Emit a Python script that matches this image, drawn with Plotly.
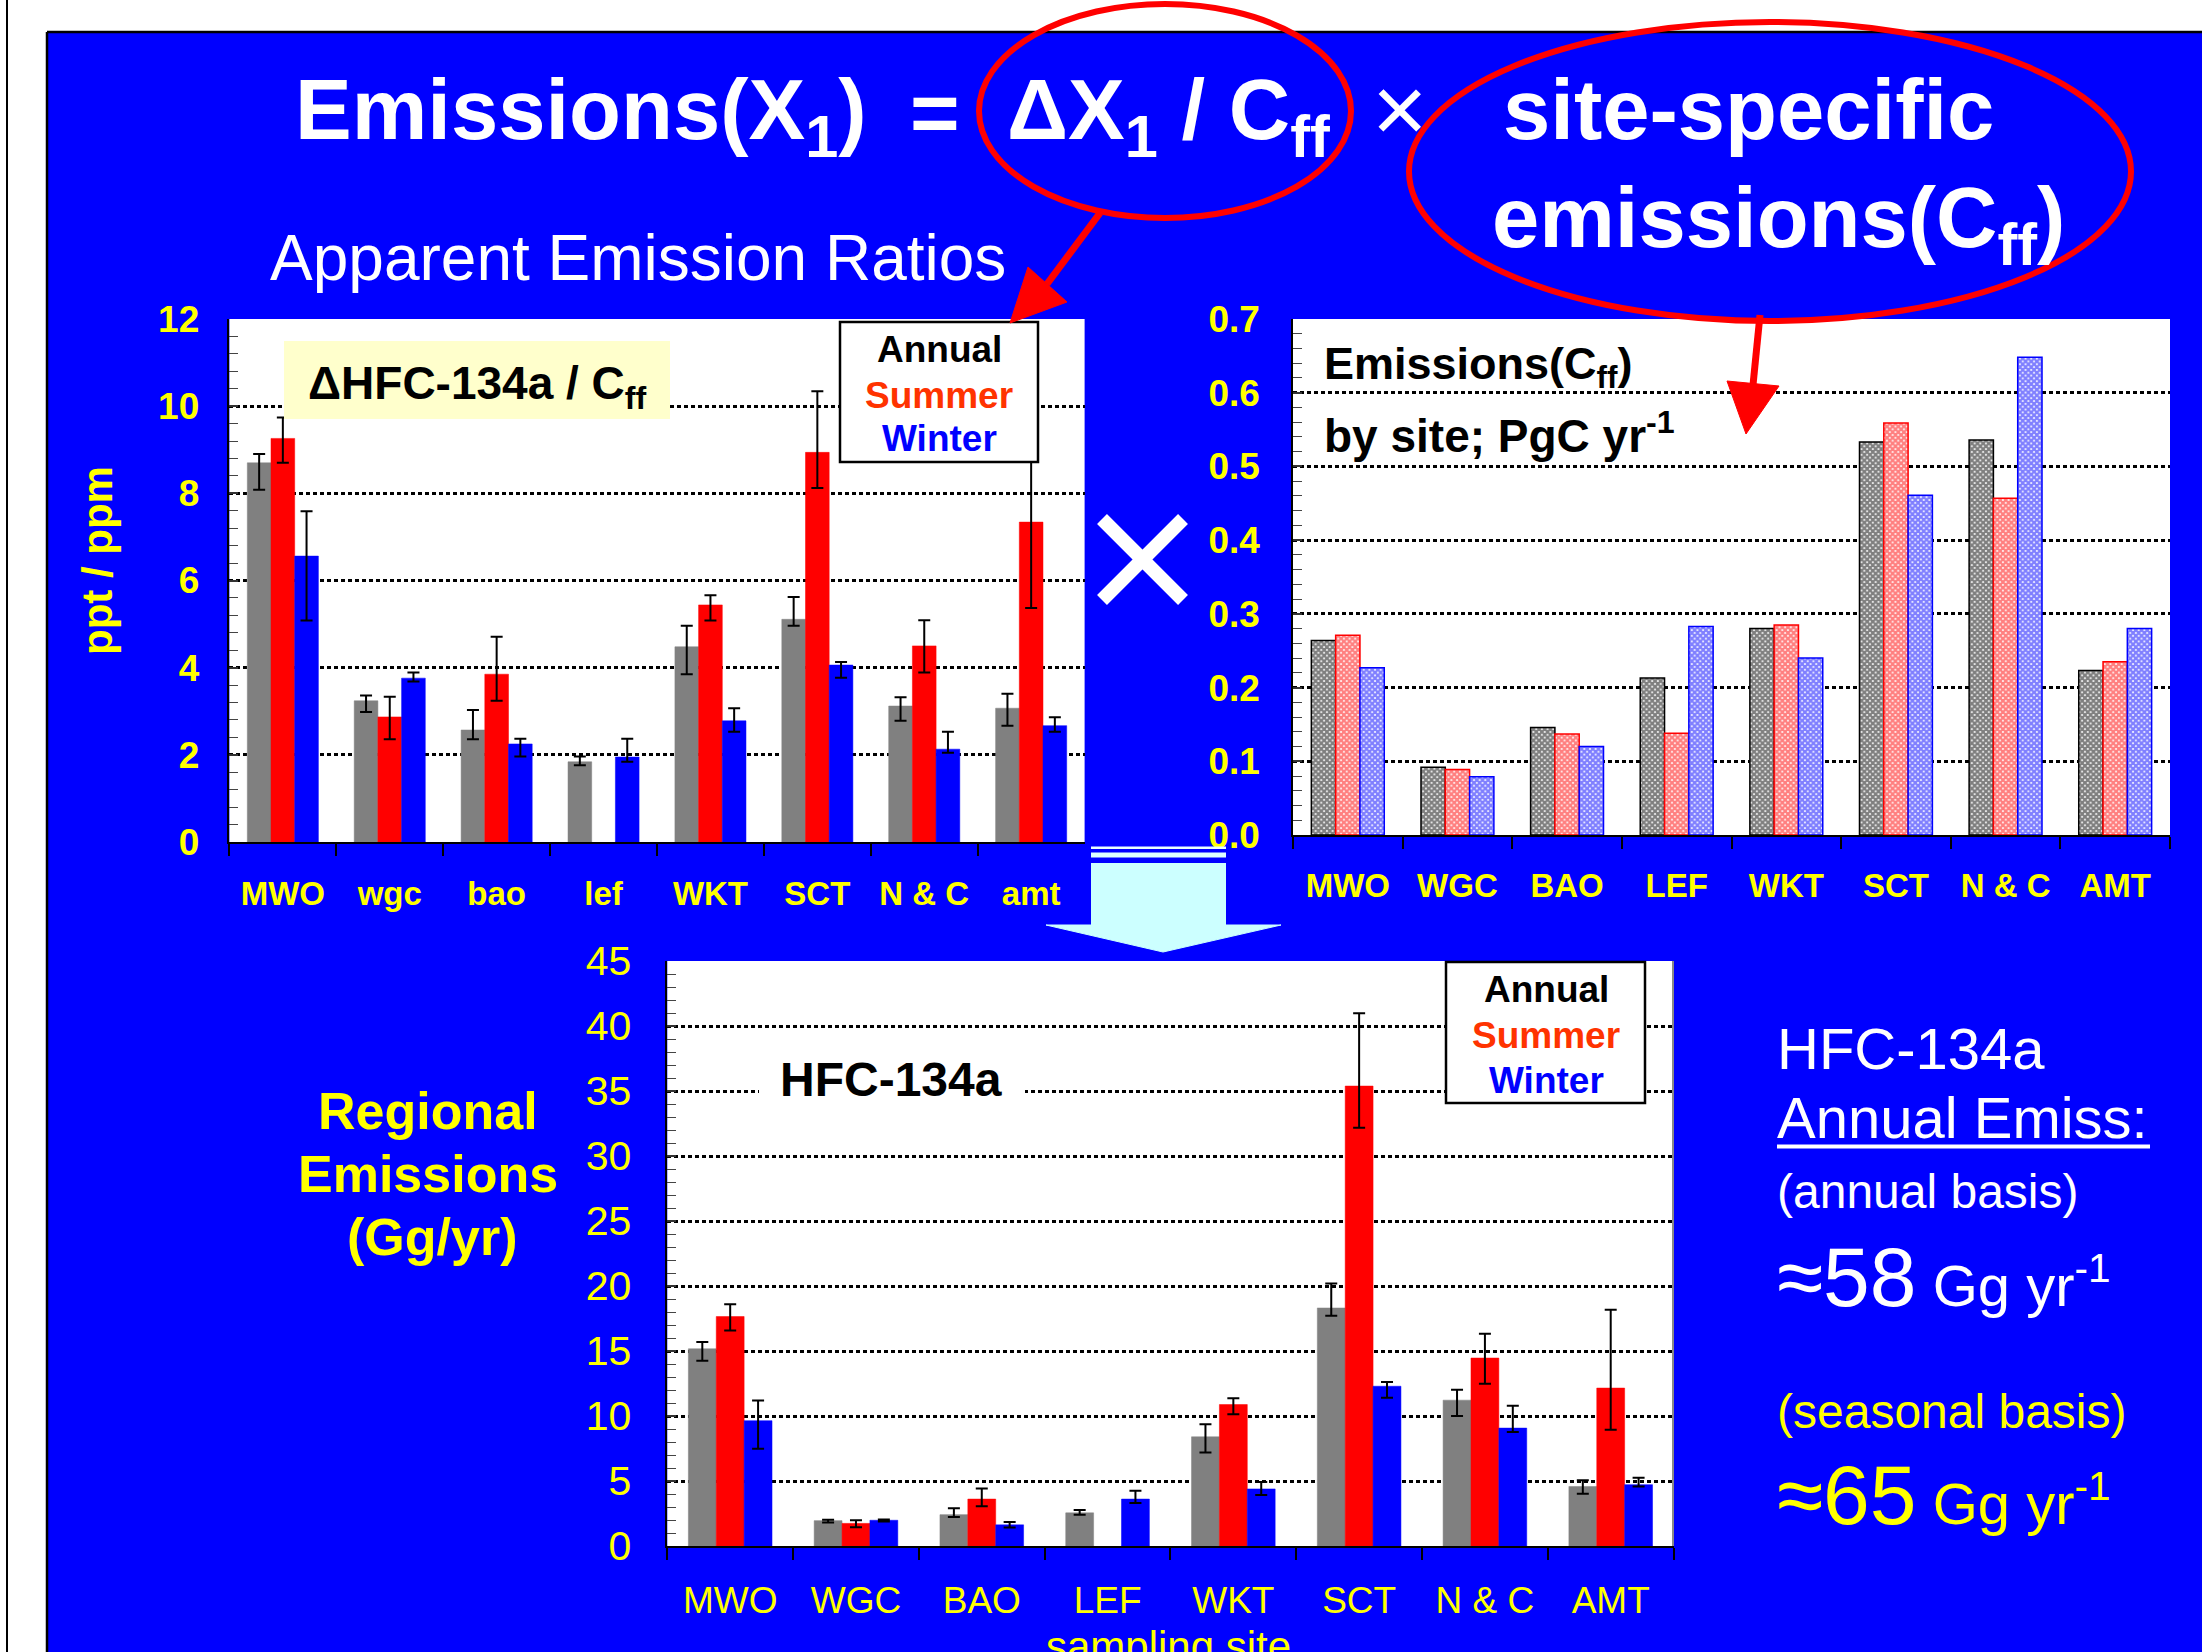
import plotly.graph_objects as go

W, H = 2202, 1652
FONT = "Liberation Sans"
YEL = "#FFFF00"
BLUE = "#0000FF"

# ---------------- data ----------------
ratio_sites = ["MWO", "wgc", "bao", "lef", "WKT", "SCT", "N & C", "amt"]
ratio_annual = [8.70, 3.24, 2.57, 1.84, 4.48, 5.11, 3.12, 3.07]
ratio_annual_up = [0.20, 0.12, 0.46, 0.12, 0.48, 0.51, 0.20, 0.33]
ratio_annual_dn = [0.62, 0.26, 0.21, 0.08, 0.63, 0.15, 0.34, 0.40]
ratio_summer = [9.26, 2.87, 3.85, None, 5.44, 8.94, 4.50, 7.34]
ratio_summer_up = [0.48, 0.46, 0.86, 0, 0.22, 1.40, 0.59, 1.97]
ratio_summer_dn = [0.56, 0.51, 0.61, 0, 0.36, 0.82, 0.61, 1.97]
ratio_winter = [6.56, 3.76, 2.25, 1.95, 2.78, 4.06, 2.13, 2.67]
ratio_winter_up = [1.03, 0.13, 0.12, 0.42, 0.29, 0.07, 0.40, 0.19]
ratio_winter_dn = [1.48, 0.08, 0.29, 0.11, 0.25, 0.29, 0.08, 0.14]

sites = ["MWO", "WGC", "BAO", "LEF", "WKT", "SCT", "N & C", "AMT"]
cff_annual = [0.264, 0.092, 0.146, 0.213, 0.280, 0.533, 0.536, 0.223]
cff_summer = [0.271, 0.089, 0.137, 0.138, 0.285, 0.559, 0.457, 0.235]
cff_winter = [0.227, 0.079, 0.120, 0.283, 0.240, 0.461, 0.648, 0.280]

emis_annual = [15.17, 1.95, 2.41, 2.55, 8.40, 18.31, 11.22, 4.58]
emis_annual_up = [0.53, 0.07, 0.50, 0.21, 0.96, 1.88, 0.80, 0.47]
emis_annual_dn = [0.92, 0.14, 0.18, 0.14, 1.21, 0.60, 1.22, 0.57]
emis_summer = [17.65, 1.74, 3.61, None, 10.88, 35.38, 14.46, 12.15]
emis_summer_up = [0.95, 0.24, 0.82, 0, 0.49, 5.61, 1.87, 6.03]
emis_summer_dn = [1.07, 0.29, 0.56, 0, 0.75, 3.20, 1.98, 3.21]
emis_winter = [9.64, 1.98, 1.63, 3.61, 4.39, 12.29, 9.07, 4.72]
emis_winter_up = [1.56, 0.05, 0.21, 0.64, 0.54, 0.33, 1.71, 0.53]
emis_winter_dn = [2.16, 0.10, 0.21, 0.31, 0.46, 0.88, 0.30, 0.14]

season_names = ["Annual", "Summer", "Winter"]
season_colors = ["#808080", "#FF0000", "#0000FF"]


def px(x):
    return x / W


def py(y):
    return 1 - y / H


fig = go.Figure()


def err(up, dn):
    return dict(type="data", symmetric=False, array=up, arrayminus=dn,
                color="black", thickness=2, width=6)


# chart 1: apparent emission ratios
for name, col, vals, up, dn in zip(
        season_names, season_colors,
        [ratio_annual, ratio_summer, ratio_winter],
        [ratio_annual_up, ratio_summer_up, ratio_winter_up],
        [ratio_annual_dn, ratio_summer_dn, ratio_winter_dn]):
    fig.add_trace(go.Bar(x=ratio_sites, y=vals, name=name,
                         marker=dict(color=col, line=dict(color=col, width=0.5)),
                         error_y=err(up, dn),
                         xaxis="x", yaxis="y", showlegend=False))

# chart 2: Cff emissions by site (patterned)
for name, col, vals in zip(season_names, ["#000000", "#FF0000", "#0000FF"],
                           [cff_annual, cff_summer, cff_winter]):
    fig.add_trace(go.Bar(x=sites, y=vals, name=name,
                         marker=dict(color="white", line=dict(color=col, width=1.5),
                                     pattern=dict(shape="x", fgcolor=col, bgcolor="white",
                                                  size=4, solidity=0.8)),
                         xaxis="x2", yaxis="y2", showlegend=False))

# chart 3: regional emissions
for name, col, vals, up, dn in zip(
        season_names, season_colors,
        [emis_annual, emis_summer, emis_winter],
        [emis_annual_up, emis_summer_up, emis_winter_up],
        [emis_annual_dn, emis_summer_dn, emis_winter_dn]):
    fig.add_trace(go.Bar(x=sites, y=vals, name=name,
                         marker=dict(color=col, line=dict(color=col, width=0.5)),
                         error_y=err(up, dn),
                         xaxis="x3", yaxis="y3", showlegend=False))


def xax(x0, x1, anchor, size, bold, standoff):
    return dict(domain=[px(x0), px(x1)], anchor=anchor, type="category",
                range=[-0.5, 7.5], tickson="boundaries", ticks="outside",
                ticklen=12, tickwidth=1.5, tickcolor="black",
                showline=True, linecolor="black", linewidth=2, showgrid=False,
                automargin=False,
                tickfont=dict(family=FONT, size=size, color=YEL,
                              weight="bold" if bold else "normal"),
                ticklabelstandoff=standoff, fixedrange=True)


def yax(y0, y1, anchor, rng, dtick, minor, size, bold, standoff, fmt=None):
    d = dict(domain=[py(y1), py(y0)], anchor=anchor, range=rng, dtick=dtick,
             ticks="inside", ticklen=9, tickwidth=1.5, tickcolor="#333333",
             showline=True, linecolor="black", linewidth=1.5,
             showgrid=True, gridcolor="black", griddash="4px,3px", gridwidth=2.5,
             zeroline=False, automargin=False,
             tickfont=dict(family=FONT, size=size, color=YEL,
                           weight="bold" if bold else "normal"),
             ticklabelstandoff=standoff, fixedrange=True,
             minor=dict(dtick=minor, ticks="inside", ticklen=9, tickwidth=1.2,
                        tickcolor="#444444", showgrid=False))
    if fmt:
        d["tickformat"] = fmt
    return d


shapes = []
# white page margins around the blue slide (slide colour = paper colour)
shapes.append(dict(type="rect", xref="paper", yref="paper", layer="below",
                   x0=0, x1=1, y0=py(32), y1=1,
                   fillcolor="white", line=dict(width=0)))
shapes.append(dict(type="rect", xref="paper", yref="paper", layer="below",
                   x0=0, x1=px(47), y0=0, y1=1,
                   fillcolor="white", line=dict(width=0)))
shapes.append(dict(type="line", xref="paper", yref="paper", layer="below",
                   x0=px(47), x1=1, y0=py(32), y1=py(32),
                   line=dict(color="black", width=2.5)))
shapes.append(dict(type="line", xref="paper", yref="paper", layer="below",
                   x0=px(47), x1=px(47), y0=py(32), y1=0,
                   line=dict(color="black", width=2.5)))
shapes.append(dict(type="line", xref="paper", yref="paper", layer="below",
                   x0=px(7), x1=px(7), y0=0, y1=1,
                   line=dict(color="black", width=2)))

# chart 3 right border
shapes.append(dict(type="line", xref="paper", yref="paper",
                   x0=px(1673), x1=px(1673), y0=py(961), y1=py(1546),
                   line=dict(color="#888888", width=2)))

# legend boxes
for (x0, y0, x1, y1) in [(840, 322, 1038, 462), (1446, 962, 1645, 1103)]:
    shapes.append(dict(type="rect", xref="paper", yref="paper",
                       x0=px(x0), x1=px(x1), y0=py(y1), y1=py(y0),
                       fillcolor="white", line=dict(color="black", width=2.5)))
# yellow label box chart 1
shapes.append(dict(type="rect", xref="paper", yref="paper",
                   x0=px(284), x1=px(670), y0=py(419), y1=py(341),
                   fillcolor="#FFFFCC", line=dict(width=0)))
# white box behind HFC-134a in chart 3
shapes.append(dict(type="rect", xref="paper", yref="paper",
                   x0=px(759), x1=px(1025), y0=py(1112), y1=py(1052),
                   fillcolor="white", line=dict(width=0)))

# red ellipses
shapes.append(dict(type="circle", xref="paper", yref="paper",
                   x0=px(979), x1=px(1351), y0=py(218), y1=py(4),
                   line=dict(color="#FF0000", width=6)))
shapes.append(dict(type="circle", xref="paper", yref="paper",
                   x0=px(1409), x1=px(2131), y0=py(321), y1=py(22),
                   line=dict(color="#FF0000", width=6)))


def poly(pts, color):
    path = "M " + " L ".join(f"{px(a)},{py(b)}" for a, b in pts) + " Z"
    return dict(type="path", xref="paper", yref="paper", path=path,
                fillcolor=color, line=dict(color=color, width=1))


# red arrows
shapes.append(dict(type="line", xref="paper", yref="paper",
                   x0=px(1100), y0=py(213), x1=px(1047), y1=py(284),
                   line=dict(color="#FF0000", width=7)))
shapes.append(poly([(1010, 323), (1028, 267), (1067, 302)], "#FF0000"))
shapes.append(dict(type="line", xref="paper", yref="paper",
                   x0=px(1760), y0=py(315), x1=px(1753), y1=py(385),
                   line=dict(color="#FF0000", width=7)))
shapes.append(poly([(1746, 434), (1727, 381), (1779, 386)], "#FF0000"))

# big white multiplication sign
shapes.append(dict(type="line", xref="paper", yref="paper",
                   x0=px(1102), y0=py(519), x1=px(1183), y1=py(600),
                   line=dict(color="white", width=14)))
shapes.append(dict(type="line", xref="paper", yref="paper",
                   x0=px(1183), y0=py(519), x1=px(1102), y1=py(600),
                   line=dict(color="white", width=14)))

# light cyan down arrow
shapes.append(dict(type="rect", xref="paper", yref="paper",
                   x0=px(1091), x1=px(1226), y0=py(849), y1=py(846.5),
                   fillcolor="#E8FFFF", line=dict(width=0)))
shapes.append(dict(type="rect", xref="paper", yref="paper",
                   x0=px(1091), x1=px(1226), y0=py(857.5), y1=py(852.5),
                   fillcolor="#DDFFFF", line=dict(width=0)))
shapes.append(dict(type="rect", xref="paper", yref="paper",
                   x0=px(1091), x1=px(1226), y0=py(927), y1=py(863),
                   fillcolor="#CCFFFF", line=dict(width=0)))
shapes.append(poly([(1046, 925), (1281, 925), (1163, 952)], "#CCFFFF"))

# underline for "Annual Emiss:"
shapes.append(dict(type="line", xref="paper", yref="paper",
                   x0=px(1777), x1=px(2150), y0=py(1146.5), y1=py(1146.5),
                   line=dict(color="white", width=4)))


def T(x, y, text, size, color="white", bold=False, xa="left", ya="top", angle=0):
    return dict(xref="paper", yref="paper", x=px(x), y=py(y), text=text,
                showarrow=False, xanchor=xa, yanchor=ya, textangle=angle,
                font=dict(family=FONT, size=size, color=color,
                          weight="bold" if bold else "normal"),
                borderpad=0, borderwidth=0)


ann = []
# title
ann.append(T(295, 62, "Emissions(X<sub>1</sub>)", 85, bold=True))
ann.append(T(935, 112, "=", 85, bold=True, xa="center", ya="middle"))
ann.append(T(1007, 62, "ΔX<sub>1</sub> / C<sub>ff</sub>", 85, bold=True))
ann.append(T(1399, 109, "×", 95, xa="center", ya="middle"))
ann.append(T(1748, 62, "site-specific", 85, bold=True, xa="center"))
ann.append(T(1492, 170, "emissions(C<sub>ff</sub>)", 85, bold=True))
ann.append(T(270, 222, "Apparent Emission Ratios", 64))

# chart 1 labels
ann.append(T(97, 561, "ppt / ppm", 42, color=YEL, bold=True, xa="center", ya="middle", angle=-90))
ann.append(T(477, 357, "ΔHFC-134a / C<sub>ff</sub>", 46, color="black", bold=True, xa="center"))
ann.append(T(939, 349, "Annual", 37, color="black", bold=True, xa="center", ya="middle"))
ann.append(T(939, 395, "Summer", 37, color="#FF3300", bold=True, xa="center", ya="middle"))
ann.append(T(939, 438, "Winter", 37, color=BLUE, bold=True, xa="center", ya="middle"))

# chart 2 labels
ann.append(T(1324, 338, "Emissions(C<sub>ff</sub>)", 45, color="black", bold=True))
ann.append(T(1324, 462, "by site; PgC yr<sup>-1</sup>", 46, color="black", bold=True, ya="bottom"))

# chart 3 labels
ann.append(T(891, 1096 - 0.905 * 48, "HFC-134a", 48, color="black", bold=True, xa="center"))
ann.append(T(1546, 989, "Annual", 37, color="black", bold=True, xa="center", ya="middle"))
ann.append(T(1546, 1035, "Summer", 37, color="#FF3300", bold=True, xa="center", ya="middle"))
ann.append(T(1546, 1080, "Winter", 37, color=BLUE, bold=True, xa="center", ya="middle"))
ann.append(T(428, 1082, "Regional", 52, color=YEL, bold=True, xa="center"))
ann.append(T(428, 1145, "Emissions", 52, color=YEL, bold=True, xa="center"))
ann.append(T(432, 1208, "(Gg/yr)", 52, color=YEL, bold=True, xa="center"))
ann.append(T(1168, 1623, "sampling site", 42, color=YEL, xa="center"))

# right-side summary
ann.append(T(1777, 1016, "HFC-134a", 58))
ann.append(T(1777, 1085, "Annual Emiss:", 58))
ann.append(T(1777, 1165, "(annual basis)", 48))
ann.append(T(1777, 1230, '<span style="font-size:84px">≈58</span> Gg yr<sup>-1</sup>', 58))
ann.append(T(1777, 1385, "(seasonal basis)", 48, color=YEL))
ann.append(T(1777, 1448, '<span style="font-size:84px">≈65</span> Gg yr<sup>-1</sup>', 58, color=YEL))

fig.update_layout(
    width=W, height=H, autosize=False,
    margin=dict(l=0, r=0, t=0, b=0, pad=0, autoexpand=False),
    paper_bgcolor=BLUE, plot_bgcolor="white",
    barmode="group", bargap=0.335, bargroupgap=0,
    showlegend=False,
    xaxis=xax(229.4, 1084.6, "y", 33, True, 21),
    yaxis=yax(319, 842, "x", [0, 12], 2, 0.4, 37, True, 21),
    xaxis2=xax(1293, 2170, "y2", 33, True, 20),
    yaxis2=yax(319, 835, "x2", [0, 0.7], 0.1, 0.02, 37, True, 24, fmt=".1f"),
    xaxis3=xax(667.3, 1673.6, "y3", 37, False, 21),
    yaxis3=yax(961, 1546, "x3", [0, 45], 5, 1, 41, False, 26),
    shapes=shapes,
    annotations=ann,
)

post = ("document.documentElement.style.margin='0';"
        "document.body.style.margin='0';"
        "document.body.style.overflow='hidden';"
        "var d=document.querySelector('.plotly-graph-div');"
        "if(d){d.style.position='fixed';d.style.left='0px';d.style.top='0px';}")

fig.write_html("out.html", post_script=post, config={"displayModeBar": False})
